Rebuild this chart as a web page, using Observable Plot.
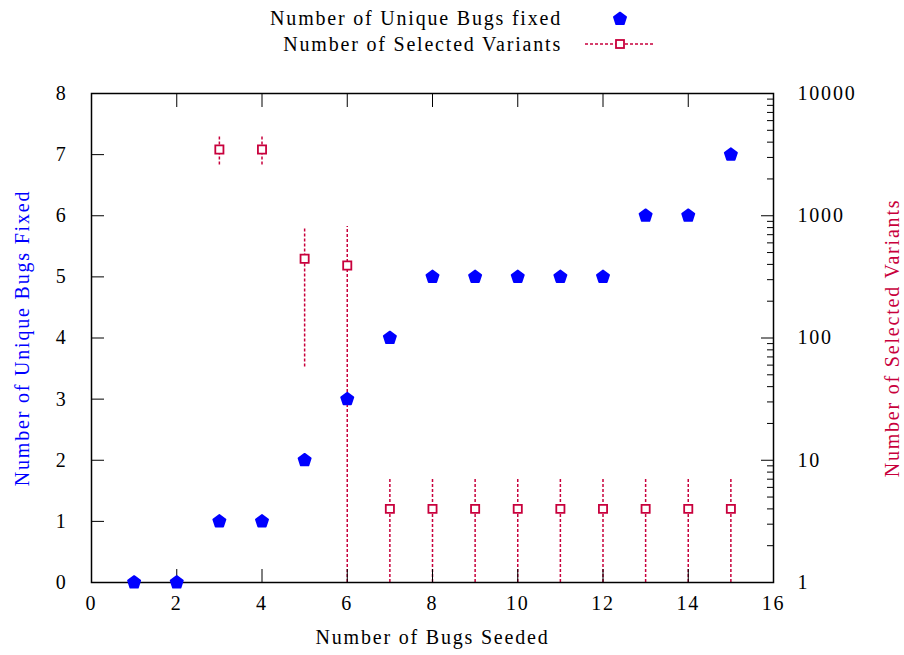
<!DOCTYPE html>
<html><head><meta charset="utf-8">
<script src="https://cdn.jsdelivr.net/npm/d3@7"></script>
<script src="https://cdn.jsdelivr.net/npm/@observablehq/plot@0.6"></script>
<style>
body{margin:0;background:#fff;}
#wrap{position:relative;width:904px;height:655px;}
#wrap > svg{position:absolute;left:0;top:0;}
</style></head><body><div id="wrap"></div>
<script>
// ---- data ----
const bugsSeeded = [1,2,3,4,5,6,7,8,9,10,11,12,13,14,15];
const uniqueBugsFixed = [0,0,1,1,2,3,4,5,5,5,5,5,6,6,7];
const variantX    = [3,4,5,6,7,8,9,10,11,12,13,14,15];
const variantMean = [3480,3480,445,392,4,4,4,4,4,4,4,4,4];
const variantLow  = [2600,2600,58,1,1,1,1,1,1,1,1,1,1];
const variantHigh = [4400,4400,810,815,7,7,7,7,7,7,7,7,7];
const xTicks = [0,2,4,6,8,10,12,14,16];
const yTicks = [0,1,2,3,4,5,6,7,8];
const y2Major = [1,10,100,1000,10000];
const y2Minor = [2,3,4,5,6,7,8,9,20,30,40,50,60,70,80,90,200,300,400,500,600,700,800,900,2000,3000,4000,5000,6000,7000,8000,9000];
const legendLabels = ["Number of Unique Bugs fixed","Number of Selected Variants"];
const xLabel = "Number of Bugs Seeded";
const yLabel = "Number of Unique Bugs Fixed";
const y2Label = "Number of Selected Variants";

// ---- tables ----
const fixed = bugsSeeded.map((x,i)=>({x, y: uniqueBugsFixed[i]}));
const variants = variantX.map((x,i)=>({x, mean: variantMean[i], low: variantLow[i], high: variantHigh[i]}));

const W=904, H=655;
const M = {marginLeft:91, marginRight:131, marginTop:93, marginBottom:73};
const RED="#c8003c", BLUE="#0000ff";
const FONT = "'Liberation Serif', serif";
const FS = "20px";
const LS = "1.8px";

const pentagon = {draw(ctx, size){
  const R = Math.sqrt(size/Math.PI);
  for(let i=0;i<5;i++){
    const a = -Math.PI/2 + i*2*Math.PI/5;
    const px = R*Math.cos(a), py = R*Math.sin(a);
    if(i) ctx.lineTo(px,py); else ctx.moveTo(px,py);
  }
  ctx.closePath();
}};

const wrap = document.getElementById("wrap");

// bottom layer: log scale (right axis, error bars)
const logPlot = Plot.plot({
  width:W, height:H, ...M,
  style:{background:"white", fontFamily:FONT, fontSize:FS, letterSpacing:LS, color:"black"},
  x:{domain:[0,16], axis:null},
  y:{type:"log", domain:[1,10000]},
  marks:[
    Plot.ruleX(variants, {x:"x", y1:"low", y2:"high", stroke:RED, strokeWidth:1.5, strokeDasharray:"3,2", clip:true}),
    Plot.dot(variants, {x:"x", y:"mean", symbol:"square", r:4.6, fill:"white", stroke:RED, strokeWidth:1.8}),
    Plot.axisY({anchor:"right", ticks:y2Minor, tickSize:-7, tickFormat:()=>"", label:null, stroke:"black"}),
    Plot.axisY({anchor:"right", ticks:y2Major, tickSize:-13, tickFormat:()=>"", label:null, stroke:"black"}),
    Plot.axisY({anchor:"right", ticks:y2Major, tickSize:0, tickPadding:24, tickFormat:d=>String(d), textAnchor:"start", label:null, fill:"black"}),
    Plot.text([y2Label], {text:d=>d, frameAnchor:"right", dx:119, rotate:-90, textAnchor:"middle", lineAnchor:"middle", fill:RED})
  ]
});
wrap.appendChild(logPlot);

// top layer: linear scale (left axis, x axis, bugs fixed)
const linPlot = Plot.plot({
  width:W, height:H, ...M,
  style:{background:"transparent", fontFamily:FONT, fontSize:FS, letterSpacing:LS, color:"black"},
  x:{domain:[0,16]},
  y:{domain:[0,8]},
  marks:[
    Plot.frame({stroke:"black", strokeWidth:1.5}),
    Plot.axisY({anchor:"left", ticks:yTicks, tickSize:-13, tickFormat:()=>"", label:null}),
    Plot.axisY({anchor:"left", ticks:yTicks, tickSize:0, tickPadding:24, label:null}),
    Plot.axisX({anchor:"bottom", ticks:xTicks, tickSize:-13, tickFormat:()=>"", label:null}),
    Plot.axisX({anchor:"top", ticks:xTicks, tickSize:-13, tickFormat:()=>"", label:null}),
    Plot.axisX({anchor:"bottom", ticks:xTicks, tickSize:0, tickPadding:13, label:null}),
    Plot.dot(fixed, {x:"x", y:"y", symbol:pentagon, r:6.4, fill:BLUE, stroke:BLUE, strokeWidth:1.8, strokeLinejoin:"round"}),
    Plot.text([yLabel], {text:d=>d, frameAnchor:"left", dx:-69, rotate:-90, textAnchor:"middle", lineAnchor:"middle", fill:BLUE}),
    Plot.text([xLabel], {text:d=>d, frameAnchor:"bottom", dy:55, textAnchor:"middle", lineAnchor:"middle", fill:"black"})
  ]
});
wrap.appendChild(linPlot);

// legend
const lg = d3.select(wrap).append("svg").attr("width",W).attr("height",60)
  .style("font-family",FONT).style("font-size",FS).style("letter-spacing",LS);
lg.append("text").attr("x",562).attr("y",18).attr("dy","0.35em").attr("text-anchor","end").text(legendLabels[0]);
lg.append("text").attr("x",562).attr("y",44).attr("dy","0.35em").attr("text-anchor","end").text(legendLabels[1]);
const sym = d3.symbol().type(pentagon).size(Math.PI*6.4*6.4);
lg.append("path").attr("d",sym()).attr("transform","translate(620,19)").attr("fill",BLUE).attr("stroke",BLUE).attr("stroke-width",1.8).attr("stroke-linejoin","round");
lg.append("line").attr("x1",585).attr("x2",655).attr("y1",44).attr("y2",44).attr("stroke",RED).attr("stroke-width",1.5).attr("stroke-dasharray","3,2");
lg.append("rect").attr("x",616).attr("y",40).attr("width",8).attr("height",8).attr("fill","white").attr("stroke",RED).attr("stroke-width",1.8);
</script></body></html>
